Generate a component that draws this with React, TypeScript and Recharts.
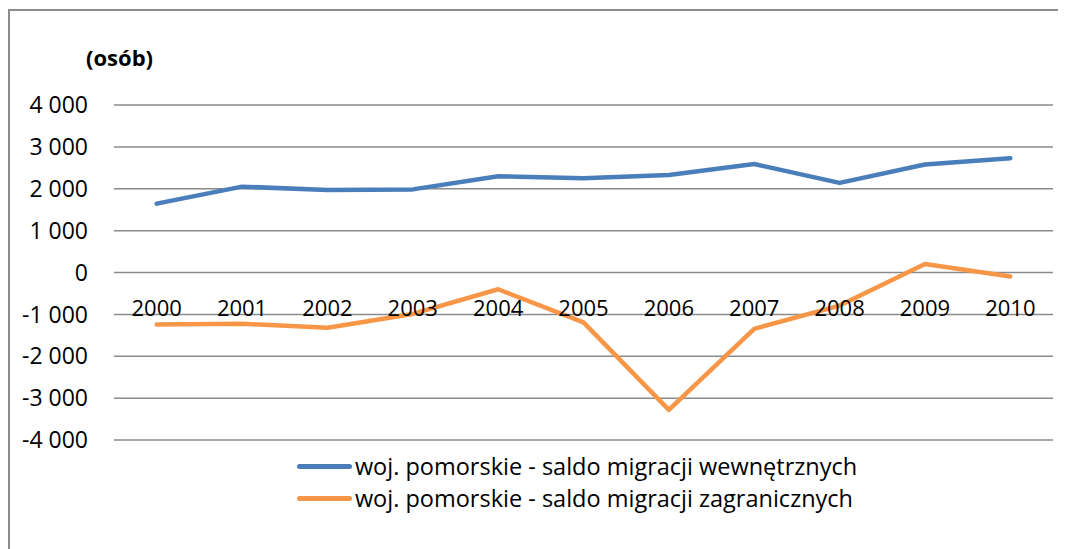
import React from "react";
import { LineChart, Line, XAxis, YAxis, CartesianGrid, Legend } from "recharts";

const years = ["2000", "2001", "2002", "2003", "2004", "2005", "2006", "2007", "2008", "2009", "2010"];
const internalSaldo = [1645, 2050, 1970, 1985, 2300, 2250, 2330, 2590, 2140, 2580, 2730];
const foreignSaldo = [-1240, -1225, -1320, -990, -400, -1190, -3280, -1345, -790, 205, -95];
const yTicks = [-4000, -3000, -2000, -1000, 0, 1000, 2000, 3000, 4000];
const seriesNames = [
  "woj. pomorskie - saldo migracji wewnętrznych",
  "woj. pomorskie - saldo migracji zagranicznych",
];
const seriesColors = ["#4A7EBB", "#F79646"];
const unitLabel = "(osób)";

const data = years.map((y, i) => ({ year: y, internal: internalSaldo[i], foreign: foreignSaldo[i] }));

const FONT = "'Open Sans', sans-serif";
const CHART_W = 1056;
const CHART_H = 538;
const MARGIN_TOP = 94;
const MARGIN_RIGHT = 13;
const YAXIS_W = 104;
const LEGEND_H = 100;
const XAXIS_H = 9;
const PLOT_H = CHART_H - MARGIN_TOP - LEGEND_H - XAXIS_H;
const PLOT_W = CHART_W - YAXIS_W - MARGIN_RIGHT;
const HALF_BAND = PLOT_W / years.length / 2;
const ZERO_Y = MARGIN_TOP + PLOT_H / 2;

const fmt = (v: number) => {
  const s = Math.abs(v).toString().replace(/\B(?=(\d{3})+(?!\d))/g, " ");
  return (v < 0 ? "-" : "") + s;
};

const YearTick = (props: any) => {
  const { x, payload } = props;
  return (
    <text x={x} y={ZERO_Y + 43} textAnchor="middle" fill="#000" fontSize={22} fontFamily={FONT}>
      {payload.value}
    </text>
  );
};

const LegendContent = () => (
  <div
    style={{
      height: LEGEND_H,
      display: "flex",
      flexDirection: "column",
      alignItems: "center",
      fontFamily: FONT,
      paddingLeft: YAXIS_W - MARGIN_RIGHT,
      boxSizing: "border-box",
    }}
  >
    <div style={{ marginTop: 1 }}>
      {seriesNames.map((n, i) => (
        <div key={n} style={{ display: "flex", alignItems: "center", height: 32 }}>
          <div style={{ width: 55, height: 5, borderRadius: 3, background: seriesColors[i], marginRight: 3 }} />
          <span style={{ fontSize: 23.5, color: "#000", whiteSpace: "nowrap" }}>{n}</span>
        </div>
      ))}
    </div>
  </div>
);

export default function App() {
  return (
    <div
      style={{
        position: "relative",
        width: 1056,
        height: 539,
        marginTop: 1,
        borderLeft: "2px solid #8c8c8c",
        borderTop: "2px solid #8c8c8c",
        overflow: "hidden",
      }}
    >
      <style>{`html,body{overflow:hidden;}body{margin:8px;}svg,.recharts-wrapper,.recharts-surface,*:focus{outline:none !important;}`}</style>
      <div
        style={{
          position: "absolute",
          left: 76,
          top: 31,
          fontFamily: FONT,
          fontWeight: 700,
          fontSize: 22,
          color: "#000",
        }}
      >
        {unitLabel}
      </div>
      <LineChart
        width={CHART_W}
        height={CHART_H}
        data={data}
        accessibilityLayer={false}
        margin={{ top: MARGIN_TOP, right: MARGIN_RIGHT, left: 0, bottom: 0 }}
      >
        <CartesianGrid vertical={false} stroke="#8a8a8a" strokeWidth={1.5} />
        <XAxis
          dataKey="year"
          height={XAXIS_H}
          axisLine={false}
          tickLine={false}
          tick={<YearTick />}
          interval={0}
          padding={{ left: HALF_BAND, right: HALF_BAND }}
        />
        <YAxis
          width={YAXIS_W}
          domain={[-4000, 4000]}
          ticks={yTicks}
          axisLine={false}
          tickLine={false}
          tickSize={0}
          tickMargin={26}
          tickFormatter={fmt}
          tick={{ fill: "#000", fontSize: 23, fontFamily: FONT }}
          interval={0}
        />
        <Legend verticalAlign="bottom" content={<LegendContent />} />
        <Line
          dataKey="internal"
          name={seriesNames[0]}
          stroke={seriesColors[0]}
          strokeWidth={4.5}
          dot={false}
          strokeLinecap="round"
          strokeLinejoin="round"
          isAnimationActive={false}
        />
        <Line
          dataKey="foreign"
          name={seriesNames[1]}
          stroke={seriesColors[1]}
          strokeWidth={4.5}
          dot={false}
          strokeLinecap="round"
          strokeLinejoin="round"
          isAnimationActive={false}
        />
      </LineChart>
      <div
        style={{
          position: "fixed",
          left: 1046,
          top: 12,
          width: 20,
          height: 50,
          background: "#fff",
          zIndex: 1000,
        }}
      />
    </div>
  );
}
